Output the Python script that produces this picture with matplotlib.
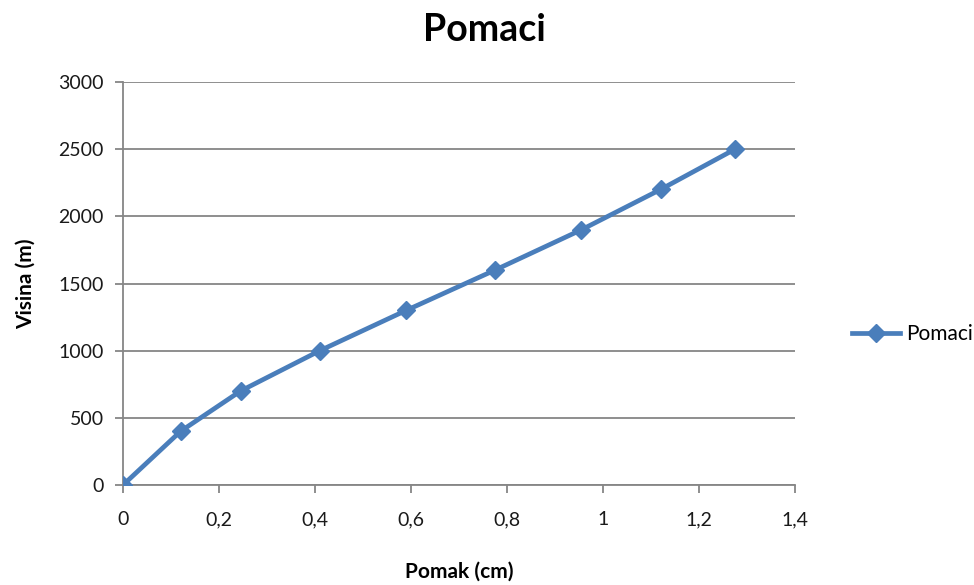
import matplotlib.pyplot as plt
from matplotlib.ticker import FuncFormatter

# Pomak (cm) i visina (m)
pomak = [0, 0.12, 0.245, 0.41, 0.59, 0.775, 0.955, 1.12, 1.275]
visina = [0, 400, 700, 1000, 1300, 1600, 1900, 2200, 2500]

x_ticks = [0, 0.2, 0.4, 0.6, 0.8, 1.0, 1.2, 1.4]
y_ticks = [0, 500, 1000, 1500, 2000, 2500, 3000]

plava = '#4A7EBB'
siva = '#868686'

plt.rcParams['font.family'] = ['Lato', 'DejaVu Sans']

fig = plt.figure(figsize=(9.74, 5.85), dpi=100)
ax = fig.add_axes([0.1263, 0.1709, 0.6899, 0.6889])

linija, = ax.plot(pomak, visina, color=plava, linewidth=3.4, marker='D',
                  markersize=9, markerfacecolor=plava, markeredgecolor=plava,
                  label='Pomaci', zorder=3)

ax.set_xlim(0, 1.4)
ax.set_ylim(0, 3000)
ax.set_xticks(x_ticks)
ax.set_yticks(y_ticks)
ax.xaxis.set_major_formatter(FuncFormatter(lambda v, p: f'{v:g}'.replace('.', ',')))

ax.yaxis.grid(True, color=siva, linewidth=1.3)
ax.set_axisbelow(True)
for s in ['top', 'right']:
    ax.spines[s].set_visible(False)
for s in ['left', 'bottom']:
    ax.spines[s].set_color(siva)
    ax.spines[s].set_linewidth(1.3)

ax.tick_params(axis='both', direction='out', length=6, width=1.3, color=siva,
               labelsize=14, labelcolor='#1a1a1a')
ax.tick_params(axis='x', pad=13)
ax.tick_params(axis='y', pad=8)

ax.set_xlabel('Pomak (cm)', fontsize=15, fontweight='bold', labelpad=24)
ax.set_ylabel('Visina (m)', fontsize=15, fontweight='bold', labelpad=16)

fig.suptitle('Pomaci', fontsize=27, fontweight='bold', x=0.497, y=0.978)

fig.legend(handles=[linija], loc='center left', frameon=False, fontsize=15,
           bbox_to_anchor=(0.866, 0.429), handlelength=2.3, handletextpad=0.3,
           borderaxespad=0)

fig.savefig('out.png', dpi=100)
